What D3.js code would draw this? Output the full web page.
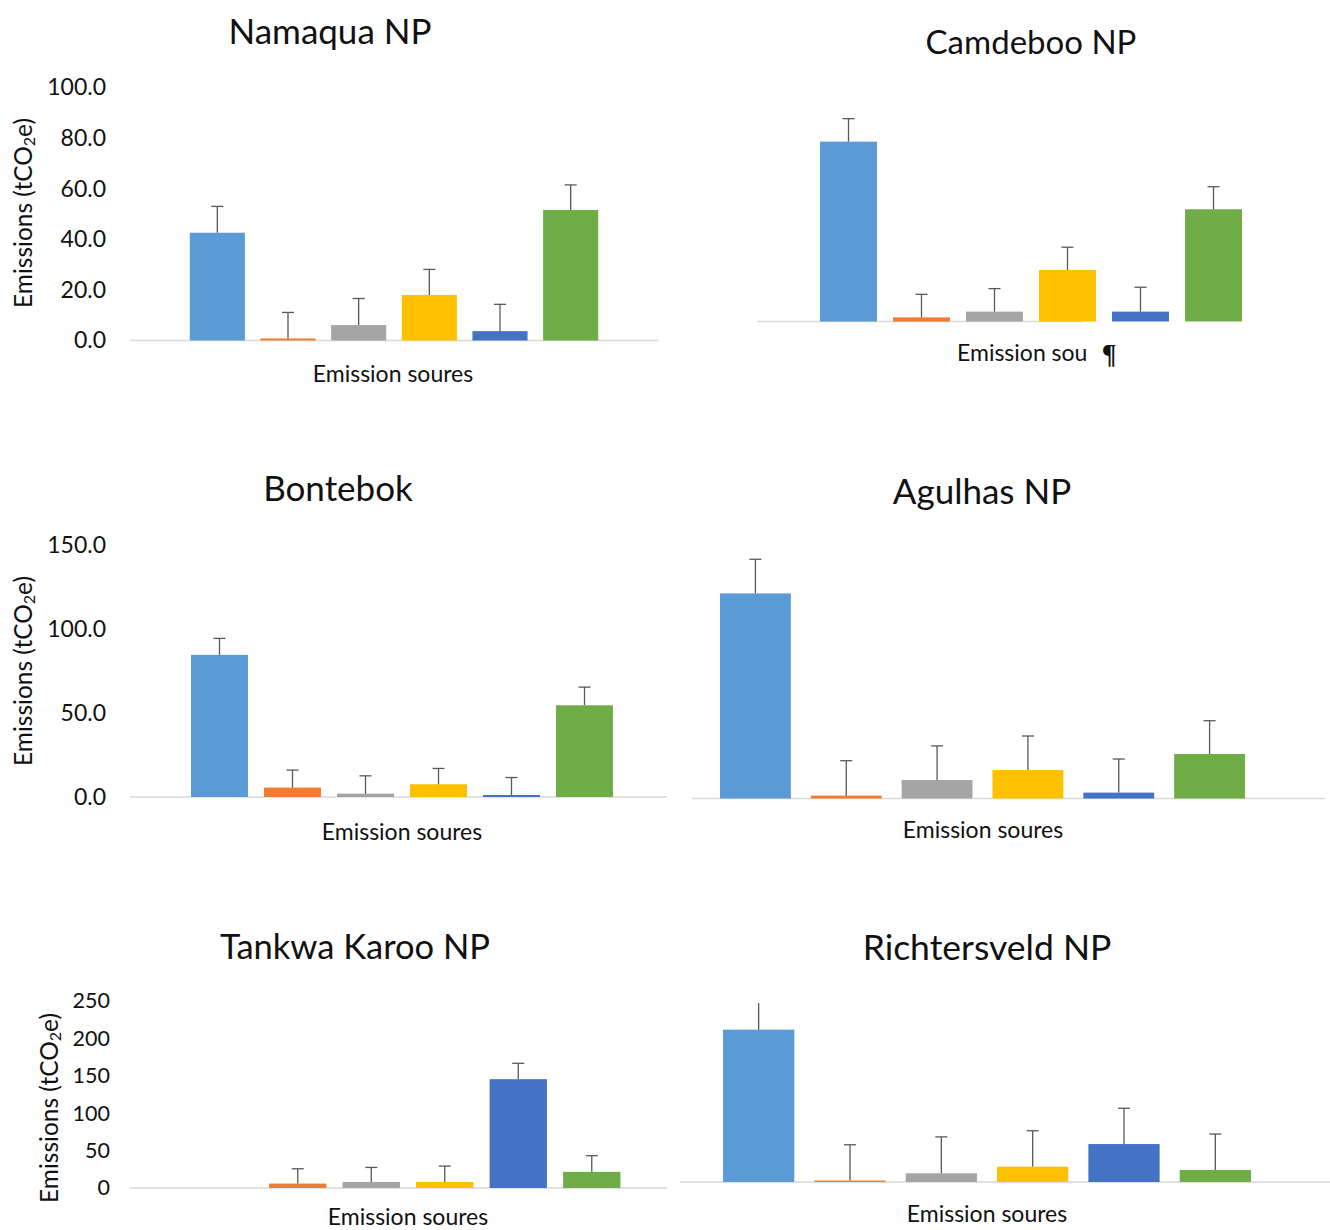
<!DOCTYPE html>
<html>
<head>
<meta charset="utf-8">
<script src="https://cdn.jsdelivr.net/npm/d3@7"></script>
<style>
  body { margin: 0; background: #fff; }
  svg { display: block; }
  text { font-family: Lato, "Open Sans", sans-serif; fill: #111; }
</style>
</head>
<body>
<svg id="chart" width="1330" height="1230"></svg>
<script>
// ---- data ---------------------------------------------------------------
const category = ["Emission soures"];
const sources = ["Source 1", "Source 2", "Source 3", "Source 4", "Source 5", "Source 6"];
const sourceColors = ["#5B9BD5", "#ED7D31", "#A5A5A5", "#FFC000", "#4472C4", "#70AD47"];

const namaquaMean = [42.6, 0.8, 6.1, 18.0, 3.7, 51.6];
const namaquaErr  = [10.4, 10.3, 10.5, 10.1, 10.6, 9.9];
const camdebooMean = [78.2, 1.8, 4.3, 22.4, 4.3, 48.8];
const camdebooErr  = [10.0, 10.0, 10.0, 9.9, 10.6, 9.8];
const bontebokMean = [84.6, 5.6, 2.0, 7.6, 1.2, 54.6];
const bontebokErr  = [9.8, 10.4, 10.6, 9.4, 10.4, 10.8];
const agulhasMean = [122.1, 1.7, 11.0, 17.0, 3.5, 26.5];
const agulhasErr  = [20.3, 20.8, 20.3, 20.2, 20.0, 19.8];
const tankwaMean = [0, 5.9, 8.1, 8.1, 145.5, 21.6];
const tankwaErr  = [null, 19.8, 19.4, 21.2, 21.2, 21.6];
const richtersveldMean = [212.8, 2.0, 12.2, 21.4, 53.0, 16.8];
const richtersveldErr  = [50.0, 50.0, 50.8, 50.2, 50.0, 50.2];

const namaquaTicks = [0, 20, 40, 60, 80, 100];
const bontebokTicks = [0, 50, 100, 150];
const tankwaTicks = [0, 50, 100, 150, 200, 250];

// ---- layout -------------------------------------------------------------
const panels = [
  { title: "Namaqua NP", mean: namaquaMean, err: namaquaErr, max: 100, ticks: namaquaTicks, fmt: ".1f",
    titlePos: [330, 30], titleSize: 35, yRange: [340.5, 87.5], axisX: [130, 658], group: [394, 424],
    tickX: 106, tickSize: 23, yTitlePos: [22, 213], xTitlePos: [393, 373] },
  { title: "Camdeboo NP", mean: camdebooMean, err: camdebooErr, max: 100, ticks: null,
    titlePos: [1031, 41], titleSize: 33, yRange: [321.5, 91.5], axisX: [757, 1083], group: [1031, 438],
    xTitlePos: [957, 352], xTitleChars: 12, pilcrow: [1109, 354] },
  { title: "Bontebok", mean: bontebokMean, err: bontebokErr, max: 150, ticks: bontebokTicks, fmt: ".1f",
    titlePos: [338, 487], titleSize: 35, yRange: [797, 545], axisX: [130, 667], group: [402, 438],
    tickX: 106, tickSize: 23, yTitlePos: [22, 671], xTitlePos: [402, 831] },
  { title: "Agulhas NP", mean: agulhasMean, err: agulhasErr, max: 150, ticks: null,
    titlePos: [982, 490], titleSize: 35, yRange: [798.5, 546.5], axisX: [692, 1325], group: [982.5, 545],
    xTitlePos: [983, 829] },
  { title: "Tankwa Karoo NP", mean: tankwaMean, err: tankwaErr, max: 250, ticks: tankwaTicks, fmt: "d",
    titlePos: [355, 945], titleSize: 34.5, yRange: [1188, 1001], axisX: [130, 667], group: [408, 441],
    tickX: 110, tickSize: 21.5, yTitlePos: [48, 1108], xTitlePos: [408, 1216] },
  { title: "Richtersveld NP", mean: richtersveldMean, err: richtersveldErr, max: 250, ticks: null,
    titlePos: [987, 946], titleSize: 35.5, yRange: [1182, 1003], axisX: [680, 1330], group: [987, 548],
    xTitlePos: [987, 1213] }
];

const svg = d3.select("#chart");

panels.forEach(p => {
  const g = svg.append("g").attr("class", "panel");

  const y = d3.scaleLinear().domain([0, p.max]).range(p.yRange);
  const xCat = d3.scaleBand().domain(category)
    .range([p.group[0] - p.group[1] / 2, p.group[0] + p.group[1] / 2]);
  const x = d3.scaleBand().domain(sources)
    .range([xCat(category[0]), xCat(category[0]) + xCat.bandwidth()])
    .paddingInner(0.22).paddingOuter(0.11);

  // chart title
  g.append("text")
    .attr("x", p.titlePos[0]).attr("y", p.titlePos[1])
    .attr("text-anchor", "middle").attr("dominant-baseline", "central")
    .style("font-size", p.titleSize + "px")
    .text(p.title);

  // value axis labels
  if (p.ticks) {
    const axis = d3.axisLeft(y).tickValues(p.ticks).tickFormat(d3.format(p.fmt))
      .tickSize(0).tickPadding(p.axisX[0] - p.tickX);
    const ag = g.append("g").attr("transform", `translate(${p.axisX[0]},0)`).call(axis);
    ag.select(".domain").remove();
    ag.selectAll("text").style("font-size", p.tickSize + "px")
      .style("font-family", "Lato, sans-serif").attr("fill", "#111");

    const yt = g.append("text")
      .attr("transform", `translate(${p.yTitlePos[0]},${p.yTitlePos[1]}) rotate(-90)`)
      .attr("text-anchor", "middle").attr("dominant-baseline", "central")
      .style("font-size", "24.5px");
    yt.append("tspan").text("Emissions (tCO");
    yt.append("tspan").attr("dy", 6).style("font-size", "16px").text("2");
    yt.append("tspan").attr("dy", -6).text("e)");
  }

  // category axis line
  g.append("line")
    .attr("x1", p.axisX[0]).attr("x2", p.axisX[1])
    .attr("y1", y(0)).attr("y2", y(0))
    .attr("stroke", "#D9D9D9").attr("stroke-width", 1.5);

  const rows = sources.map((s, i) => ({ s, i, v: p.mean[i], e: p.err[i] }));

  // bars
  g.selectAll("rect.bar").data(rows.filter(d => d.v > 0)).join("rect")
    .attr("class", "bar")
    .attr("x", d => x(d.s)).attr("width", x.bandwidth())
    .attr("y", d => y(d.v)).attr("height", d => y(0) - y(d.v))
    .attr("fill", d => sourceColors[d.i]);

  // plus error bars, clipped at the top of the value axis
  const eb = g.selectAll("g.err").data(rows.filter(d => d.e != null)).join("g").attr("class", "err");
  eb.append("line")
    .attr("x1", d => x(d.s) + x.bandwidth() / 2).attr("x2", d => x(d.s) + x.bandwidth() / 2)
    .attr("y1", d => y(d.v)).attr("y2", d => y(Math.min(d.v + d.e, p.max)))
    .attr("stroke", "#595959").attr("stroke-width", 1.3);
  eb.filter(d => d.v + d.e <= p.max).append("line")
    .attr("x1", d => x(d.s) + x.bandwidth() / 2 - 6).attr("x2", d => x(d.s) + x.bandwidth() / 2 + 6)
    .attr("y1", d => y(d.v + d.e)).attr("y2", d => y(d.v + d.e))
    .attr("stroke", "#595959").attr("stroke-width", 1.3);

  // category axis title
  if (p.xTitleChars) {
    // truncated title followed by a paragraph mark
    g.append("text")
      .attr("x", p.xTitlePos[0]).attr("y", p.xTitlePos[1])
      .attr("text-anchor", "start").attr("dominant-baseline", "central")
      .style("font-size", "23px")
      .text(category[0].slice(0, p.xTitleChars));
    g.append("text")
      .attr("x", p.pilcrow[0]).attr("y", p.pilcrow[1])
      .attr("text-anchor", "middle").attr("dominant-baseline", "central")
      .style("font-family", "'Liberation Serif', serif").style("font-size", "27px").style("font-weight", "bold")
      .text("\u00B6");
  } else {
    g.append("text")
      .attr("x", p.xTitlePos[0]).attr("y", p.xTitlePos[1])
      .attr("text-anchor", "middle").attr("dominant-baseline", "central")
      .style("font-size", "23px")
      .text(category[0]);
  }
});
</script>
</body>
</html>
